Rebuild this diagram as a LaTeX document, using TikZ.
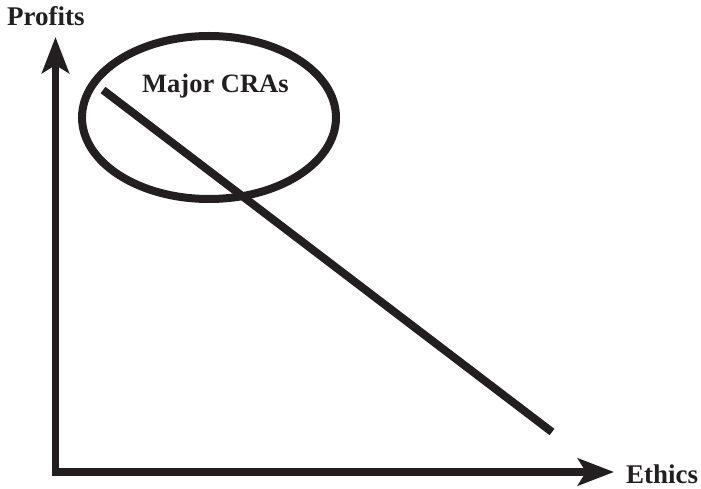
\documentclass[tikz,border=0pt]{standalone}
\usepackage{fontspec}
\setmainfont{Liberation Serif}
\usetikzlibrary{arrows.meta,shapes.geometric}
\definecolor{ink}{HTML}{231F20}
\begin{document}
\begin{tikzpicture}[x=1pt,y=-1pt,
  axis/.style={draw=ink,line width=7.7pt,line join=miter,
    {Stealth[length=36pt,width=27pt,inset=8pt]}-{Stealth[length=36pt,width=27pt,inset=8pt]}},
  thick line/.style={draw=ink,line width=8pt},
  lbl/.style={anchor=base west,inner sep=0pt,text=ink,font=\bfseries\fontsize{27}{30}\selectfont}]
\useasboundingbox (0,0) rectangle (701,489);
\coordinate (O) at (55.5,472);
\coordinate (Y) at (55.5,37);
\coordinate (X) at (614,472);
\coordinate (D1) at (103,90);
\coordinate (D2) at (552,432);
\draw[axis] (Y) -- (O) -- (X);
\draw[thick line] (D1) -- (D2);
\node[thick line,ellipse,minimum width=254pt,minimum height=163pt,inner sep=0pt] (E) at (209,117.5) {};
\node[lbl] (P) at (7,26) {Profits};
\node[lbl] (Eth) at (626,483) {Ethics};
\node[lbl,font=\bfseries\fontsize{26.5}{30}\selectfont] (M) at (142,93) {Major CRAs};
\end{tikzpicture}
\end{document}
